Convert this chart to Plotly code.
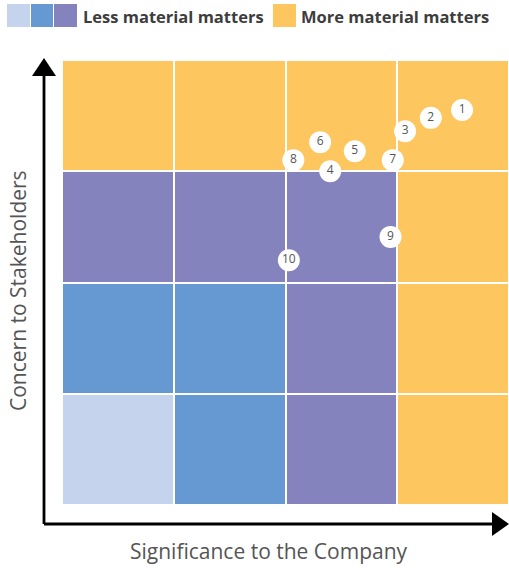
import plotly.graph_objects as go

# Grid categories (rows bottom->top, cols left->right): 0=light,1=blue,2=purple,3=orange
grid_levels = [
    [0, 1, 2, 3],
    [1, 1, 2, 3],
    [2, 2, 2, 3],
    [3, 3, 3, 3],
]
grid_x = [0.5, 1.5, 2.5, 3.5]
grid_y = [0.5, 1.5, 2.5, 3.5]
colors = ["#C5D3EC", "#6699D2", "#8583BD", "#FDC65E"]

# Matters (significance to company, concern to stakeholders)
labels = ["1", "2", "3", "4", "5", "6", "7", "8", "9", "10"]
sig = [3.58, 3.30, 3.07, 2.40, 2.62, 2.31, 2.96, 2.07, 2.94, 2.03]
concern = [3.55, 3.48, 3.36, 3.00, 3.18, 3.26, 3.10, 3.10, 2.41, 2.20]

legend_less = "Less material matters"
legend_more = "More material matters"
x_title = "Significance to the Company"
y_title = "Concern to Stakeholders"

W, H = 509, 568
L, T, B, R = 62, 60, 63, 0
pw, ph = W - L - R, H - T - B

def px(xp):
    return (xp - L) / pw

def py(yp):
    return (H - B - yp) / ph

cs = []
n = len(colors)
for i, c in enumerate(colors):
    cs.append([i / n, c])
    cs.append([(i + 1) / n, c])

fig = go.Figure()
fig.add_trace(go.Heatmap(
    z=grid_levels, x=grid_x, y=grid_y, zmin=-0.5, zmax=3.5,
    colorscale=cs, showscale=False, xgap=2, ygap=2, hoverinfo="skip",
))
fig.add_trace(go.Scatter(
    x=sig, y=concern, mode="markers+text", text=labels,
    textposition="middle center",
    marker=dict(size=22, color="white", line=dict(width=0)),
    textfont=dict(family="Open Sans", size=12, color="#555555"),
    hoverinfo="skip", cliponaxis=False,
))

shapes = []
# axis arrows
ax_x = px(44)
ax_y = py(524)
shapes.append(dict(type="line", xref="paper", yref="paper", x0=ax_x, y0=ax_y,
                   x1=ax_x, y1=py(74), line=dict(color="black", width=2.8)))
shapes.append(dict(type="line", xref="paper", yref="paper", x0=ax_x, y0=ax_y,
                   x1=px(494), y1=ax_y, line=dict(color="black", width=2.8)))
shapes.append(dict(type="path", xref="paper", yref="paper",
                   path=f"M {px(44)},{py(58)} L {px(32)},{py(76)} L {px(56)},{py(76)} Z",
                   fillcolor="black", line=dict(width=0)))
shapes.append(dict(type="path", xref="paper", yref="paper",
                   path=f"M {px(509)},{py(524)} L {px(492)},{py(512)} L {px(492)},{py(536)} Z",
                   fillcolor="black", line=dict(width=0)))
# legend swatches
for (x0, x1, c) in [(7, 30, colors[0]), (31, 53, colors[1]), (54, 77, colors[2]), (273, 296, colors[3])]:
    shapes.append(dict(type="rect", xref="paper", yref="paper",
                       x0=px(x0), x1=px(x1), y0=py(27), y1=py(4),
                       fillcolor=c, line=dict(width=0)))

annotations = [
    dict(text=f"<b>{legend_less}</b>", xref="paper", yref="paper", x=px(81), y=py(16),
         xanchor="left", yanchor="middle", showarrow=False,
         font=dict(family="Open Sans", size=16.5, color="#3d3d3d")),
    dict(text=f"<b>{legend_more}</b>", xref="paper", yref="paper", x=px(299), y=py(16),
         xanchor="left", yanchor="middle", showarrow=False,
         font=dict(family="Open Sans", size=16.5, color="#3d3d3d")),
    dict(text=x_title, xref="paper", yref="paper", x=px(269), y=py(551),
         xanchor="center", yanchor="middle", showarrow=False,
         font=dict(family="Open Sans", size=21, color="#555555")),
    dict(text=y_title, xref="paper", yref="paper", x=px(18), y=py(291),
         xanchor="center", yanchor="middle", showarrow=False, textangle=-90,
         font=dict(family="Open Sans", size=21, color="#555555")),
]

fig.update_layout(
    width=W, height=H, margin=dict(l=L, r=R, t=T, b=B, pad=0),
    paper_bgcolor="white", plot_bgcolor="white", showlegend=False,
    xaxis=dict(range=[0, 4], visible=False, fixedrange=True),
    yaxis=dict(range=[0, 4], visible=False, fixedrange=True),
    shapes=shapes, annotations=annotations,
)
fig.write_html("out.html", config={"displayModeBar": False})
